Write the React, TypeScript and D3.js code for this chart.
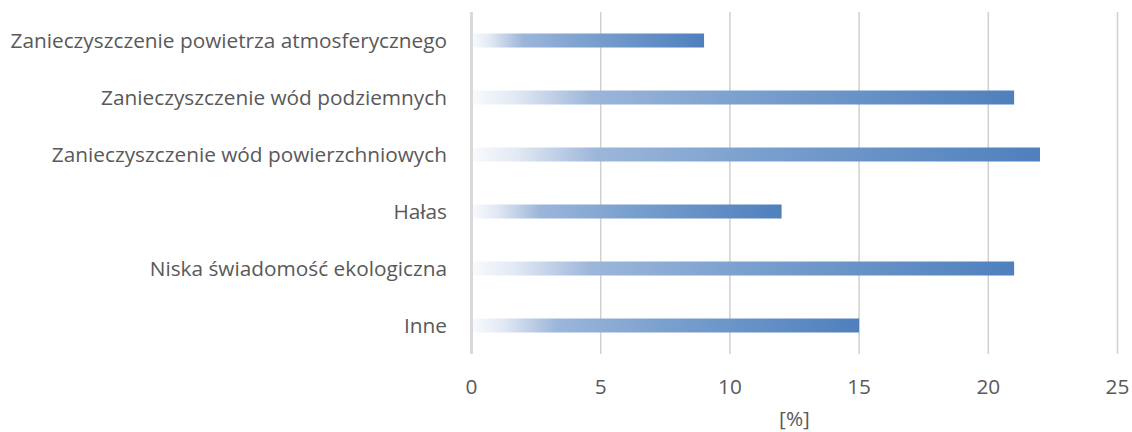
import React from "react";
import * as d3 from "d3";

const categories = [
  "Zanieczyszczenie powietrza atmosferycznego",
  "Zanieczyszczenie wód podziemnych",
  "Zanieczyszczenie wód powierzchniowych",
  "Hałas",
  "Niska świadomość ekologiczna",
  "Inne",
];
const values = [9, 21, 22, 12, 21, 15];
const xTicks = [0, 5, 10, 15, 20, 25];
const axisTitle = "[%]";

const W = 1132;
const H = 432;
const left = 471.5;
const right = 1117.5;
const top = 12;
const bottom = 354;
const FONT = "'Open Sans', 'Noto Sans', sans-serif";

export default function App() {
  const x = d3.scaleLinear().domain([0, 25]).range([left, right]);
  const y = d3.scaleBand().domain(categories).range([top, bottom]).paddingInner(0).paddingOuter(0);
  const barH = 14;

  return (
    <svg width={W} height={H} style={{ position: "absolute", left: 0, top: 0, background: "#fff" }}>
      <defs>
        <linearGradient id="barGrad" x1="0" y1="0" x2="1" y2="0">
          <stop offset="0" stopColor="#f9fbfd" />
          <stop offset="0.08" stopColor="#e2e9f4" />
          <stop offset="0.22" stopColor="#9cb6da" />
          <stop offset="0.5" stopColor="#7aa0ce" />
          <stop offset="1" stopColor="#4f80bd" />
        </linearGradient>
      </defs>
      {xTicks.slice(1).map((t) => (
        <line key={t} x1={x(t)} x2={x(t)} y1={top} y2={bottom} stroke="#d0d0d0" strokeWidth={1.5} />
      ))}
      {categories.map((c, i) => (
        <rect
          key={c}
          x={x(0)}
          y={(y(c) as number) + y.bandwidth() / 2 - barH / 2}
          width={x(values[i]) - x(0)}
          height={barH}
          fill="url(#barGrad)"
        />
      ))}
      <line x1={x(0)} x2={x(0)} y1={top} y2={bottom} stroke="#d9d9d9" strokeWidth={3} />
      {categories.map((c) => (
        <text
          key={c}
          x={447}
          y={(y(c) as number) + y.bandwidth() / 2}
          dy="0.35em"
          textAnchor="end"
          fontFamily={FONT}
          fontSize={20.8}
          fill="#595959"
        >
          {c}
        </text>
      ))}
      {xTicks.map((t) => (
        <text key={t} x={x(t)} y={394} textAnchor="middle" fontFamily={FONT} fontSize={20.8} fill="#595959">
          {t}
        </text>
      ))}
      <text x={(left + right) / 2} y={426} textAnchor="middle" fontFamily={FONT} fontSize={20.8} fill="#595959">
        {axisTitle}
      </text>
    </svg>
  );
}
